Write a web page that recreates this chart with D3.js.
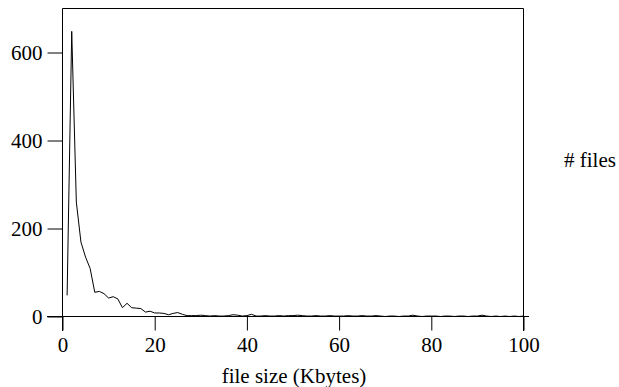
<!DOCTYPE html>
<html lang="en">
  <head>
    <meta charset="UTF-8" />
    <title>file sizes</title>
    <script src="https://cdn.jsdelivr.net/npm/d3@7"></script>
    <style>
      body { margin: 0; background: #fff; }
    </style>
  </head>
  <body>
    <svg id="chart" width="619" height="387"></svg>
    <script>
      // file size bins (Kbytes) and number of files in each bin
      let sizes = d3.range(1, 101);
      let files = [
        48, 648, 260, 169, 135, 109, 55, 57, 52, 42,
        45, 40, 20, 30, 20, 19, 18, 10, 12, 8,
        8, 7, 4, 7, 9, 5, 2, 2, 2, 3,
        2, 1, 2, 1, 1, 2, 4, 3, 1, 2,
        5, 1, 1, 2, 1, 1, 2, 1, 2, 2,
        3, 2, 1, 1, 2, 1, 1, 2, 1, 1,
        1, 2, 1, 1, 2, 1, 1, 2, 1, 0,
        1, 1, 0, 1, 1, 3, 1, 0, 1, 1,
        1, 0, 1, 1, 0, 1, 1, 0, 1, 1,
        3, 1, 0, 1, 0, 1, 0, 1, 0, 1
      ];
      let xTicks = [0, 20, 40, 60, 80, 100];
      let yTicks = [0, 200, 400, 600];

      let serif = "'Liberation Serif', 'Times New Roman', Times, serif";
      let svg = d3.select("#chart")
        .attr("font-family", serif)
        .attr("font-size", 21);
      let pLeft = 62.5, pRight = 523.5, pTop = 8.5, pBottom = 316.5;

      let x = d3.scaleLinear().domain([0, 100]).range([pLeft, pRight]);
      let y = d3.scaleLinear().domain([0, 700]).range([pBottom, pTop]);

      // frame
      svg.append("path")
        .attr("d", `M${pLeft},331V${pTop}H${pRight}V331`)
        .attr("fill", "none")
        .attr("stroke", "#000");
      svg.append("line")
        .attr("x1", 47).attr("x2", 529)
        .attr("y1", pBottom).attr("y2", pBottom)
        .attr("stroke", "#000");

      // y axis
      let yAxis = svg.append("g")
        .attr("transform", `translate(${pLeft},0)`)
        .call(d3.axisLeft(y).tickValues(yTicks).tickSize(15).tickPadding(5).tickSizeOuter(0))
        .attr("font-family", serif)
        .attr("font-size", 21);
      yAxis.select(".domain").remove();
      yAxis.selectAll("text").attr("fill", "#000");

      // x axis
      let xAxis = svg.append("g")
        .attr("transform", `translate(0,${pBottom})`)
        .call(d3.axisBottom(x).tickValues(xTicks).tickSize(14).tickPadding(7).tickSizeOuter(0))
        .attr("font-family", serif)
        .attr("font-size", 21);
      xAxis.select(".domain").remove();
      xAxis.selectAll("text").attr("fill", "#000");

      // line
      let line = d3.line()
        .x((d, i) => x(sizes[i]))
        .y(d => y(d));
      svg.append("path")
        .datum(files)
        .attr("d", line)
        .attr("fill", "none")
        .attr("stroke", "#000")
        .attr("stroke-width", 1);

      // labels
      svg.append("text")
        .attr("x", 294).attr("y", 383)
        .attr("text-anchor", "middle")
        .text("file size (Kbytes)");
      svg.append("text")
        .attr("x", 564).attr("y", 167)
        .text("# files");
    </script>
  </body>
</html>
